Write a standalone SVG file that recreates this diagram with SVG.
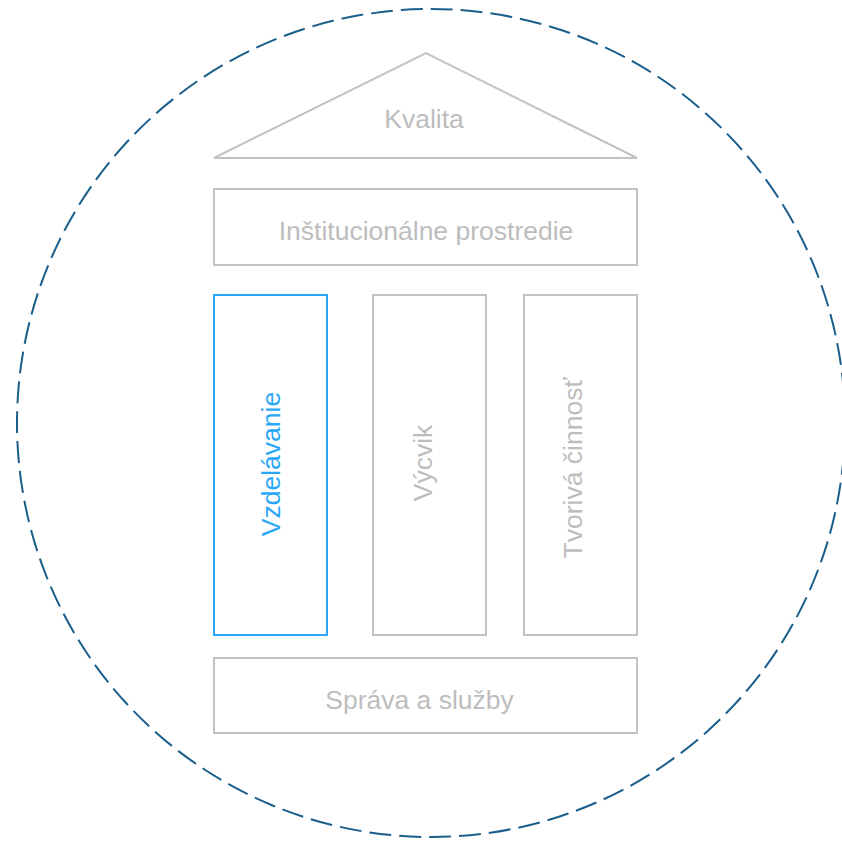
<svg xmlns="http://www.w3.org/2000/svg" width="842" height="843" viewBox="0 0 842 843">
<style>
.box{fill:none;stroke:#c2c2c2;stroke-width:2}
.lbl{font-family:"Liberation Sans",Arial,sans-serif;font-size:26.5px;fill:#bdbdbd;text-anchor:middle;dominant-baseline:central}
.sel{stroke:#2aa8f8}
.selt{fill:#2aa8f8}
</style>
<rect width="842" height="843" fill="#ffffff"/>
<g id="frame"><circle cx="431" cy="423" r="414" fill="none" stroke="#1b5e8c" stroke-width="2" stroke-dasharray="22 8"/></g>
<g id="roof"><polygon class="box" points="214,158 426,53 637,158"/><text class="lbl" x="424" y="119">Kvalita</text></g>
<g id="institucionalne"><rect class="box" x="214" y="189" width="423" height="76"/><text class="lbl" x="426" y="231">Inštitucionálne prostredie</text></g>
<g id="vzdelavanie"><rect class="box sel" x="214" y="295" width="113" height="340"/><text class="lbl selt" transform="translate(270.5,464) rotate(-90)">Vzdelávanie</text></g>
<g id="vycvik"><rect class="box" x="373" y="295" width="113" height="340"/><text class="lbl" transform="translate(422.5,463) rotate(-90)">Výcvik</text></g>
<g id="tvoriva"><rect class="box" x="524" y="295" width="113" height="340"/><text class="lbl" transform="translate(573,468) rotate(-90)">Tvorivá činnosť</text></g>
<g id="sprava"><rect class="box" x="214" y="658" width="423" height="75"/><text class="lbl" x="419.5" y="700">Správa a služby</text></g>
<g id="connectors"></g>
</svg>
